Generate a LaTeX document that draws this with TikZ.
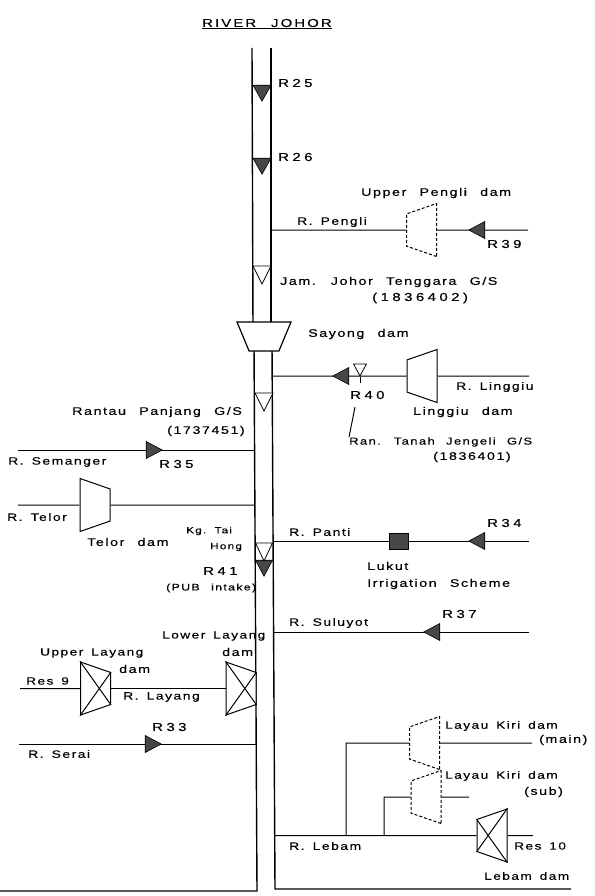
\documentclass[tikz,border=0pt]{standalone}
\usepackage{fontspec}
\setmainfont[FakeStretch=1.3,LetterSpace=14,WordSpace=2.4,FakeBold=0.25]{Liberation Sans}
\newfontfamily\namefont[FakeStretch=1.3,LetterSpace=14,WordSpace=0.7,FakeBold=0.25]{Liberation Sans}
\newfontfamily\midfont[FakeStretch=1.3,LetterSpace=14,WordSpace=1.5,FakeBold=0.25]{Liberation Sans}
\usetikzlibrary{shapes.geometric}

\begin{document}
\begin{tikzpicture}[
    x=1pt, y=-1pt,
    riverline/.style={line width=1.4pt},
    branchline/.style={line width=1pt},
    dambox/.style={
      trapezium, draw, fill=white, inner sep=0pt, line width=1pt,
      text width=1pt, text height=1pt, text depth=0pt,
      trapezium stretches=true, trapezium angle=72,
      minimum width=53pt, minimum height=30pt,
    },
    dam narrow west/.style={dambox, shape border rotate=90},
    dam narrow east/.style={dambox, shape border rotate=270},
    planned/.style={densely dashed, line width=1pt},
    flowmark/.style={
      isosceles triangle, isosceles triangle stretches, draw, fill=black!72,
      inner sep=0pt, minimum width=17pt, minimum height=16pt, line width=0.6pt,
    },
    gaugemark/.style={
      isosceles triangle, isosceles triangle stretches, draw, fill=white,
      inner sep=0pt, minimum width=18pt, minimum height=18pt, line width=0.8pt,
      shape border rotate=270, anchor=apex,
    },
    lbl/.style={inner sep=0pt, anchor=west, font=\fontsize{11}{12}\selectfont},
    rivername/.style={lbl, font=\namefont\fontsize{10.7}{12}\selectfont},
    midlbl/.style={lbl, font=\midfont\fontsize{10.5}{12}\selectfont},
    reach/.style={lbl, font=\fontsize{11.5}{12}\selectfont\addfontfeature{LetterSpace=30}},
  ]
  \useasboundingbox (0,0) rectangle (594,896);

  %% ---- free ends and junctions ----
  \coordinate (riverLtop)  at (252,48);
  \coordinate (riverRtop)  at (271,48);
  \coordinate (riverLdam)  at (253,330);
  \coordinate (riverRdam)  at (271,330);
  \coordinate (riverLlow)  at (254,345);
  \coordinate (riverRlow)  at (272,345);
  \coordinate (riverLbot)  at (257,891);
  \coordinate (riverRbot)  at (275,889);
  \coordinate (edgeL)      at (0,891);
  \coordinate (edgeR)      at (571,889);

  %% ---- river ----
  \draw[riverline] (riverLtop) -- (riverLdam);
  \draw[riverline] (riverRtop) -- (riverRdam);
  \draw[riverline] (riverLlow) -- (riverLbot) -- (edgeL);
  \draw[riverline] (riverRlow) -- (riverRbot) -- (edgeR);

  %% ---- dams ----
  \node[dambox, shape border rotate=180, trapezium angle=68, minimum width=54pt,
        minimum height=29pt, line width=1.2pt] (sayong) at (264,336.5) {};
  \node[dam narrow west, planned] (pengli)  at (421.5,230) {};
  \node[dam narrow west]          (linggiu) at (422,376)   {};
  \node[dam narrow east]          (telor)   at (95,505)    {};
  \node[dam narrow east]          (upperlayang) at (95.5,688.5) {};
  \node[dam narrow east]          (lowerlayang) at (241,688.5)  {};
  \node[dam narrow west]          (lebam)   at (492,835.5) {};
  \node[dam narrow west, planned] (kirimain) at (424.5,743) {};
  \node[dam narrow west, planned] (kirisub)  at (426,797)  {};

  % crossed dams
  \draw[branchline] (upperlayang.top left corner) -- (upperlayang.bottom right corner);
  \draw[branchline] (upperlayang.top right corner) -- (upperlayang.bottom left corner);
  \draw[branchline] (lowerlayang.top left corner) -- (lowerlayang.bottom right corner);
  \draw[branchline] (lowerlayang.top right corner) -- (lowerlayang.bottom left corner);
  \draw[branchline] (lebam.top left corner) -- (lebam.bottom right corner);
  \draw[branchline] (lebam.top right corner) -- (lebam.bottom left corner);

  %% ---- irrigation box ----
  \node[draw, fill=black!72, inner sep=0pt, minimum width=19pt, minimum height=16pt]
    (lukut) at (398.5,541) {};

  %% ---- tributaries, right bank ----
  \coordinate (joinPengli)  at (271,230);
  \coordinate (endPengli)   at (528,230);
  \coordinate (joinLinggiu) at (272,376);
  \coordinate (endLinggiu)  at (529,376);
  \coordinate (joinPanti)   at (274,541);
  \coordinate (endPanti)    at (529,541);
  \coordinate (joinSuluyot) at (274,632);
  \coordinate (endSuluyot)  at (529,632);
  \coordinate (joinLebam)   at (275,835.5);
  \coordinate (endRes)      at (533,835.5);
  \coordinate (tapMain)     at (346,835.5);
  \coordinate (bendMain)    at (346,743);
  \coordinate (endMain)     at (532,743);
  \coordinate (tapSub)      at (384,835.5);
  \coordinate (bendSub)     at (384,797);
  \coordinate (endSub)      at (469,797);
  \draw[branchline] (joinPengli) -- (pengli.west);
  \draw[branchline] (pengli.east) -- (endPengli);
  \draw[branchline] (joinLinggiu) -- (linggiu.west);
  \draw[branchline] (linggiu.east) -- (endLinggiu);
  \draw[branchline] (joinPanti) -- (lukut.west);
  \draw[branchline] (lukut.east) -- (endPanti);
  \draw[branchline] (joinSuluyot) -- (endSuluyot);
  \draw[branchline] (joinLebam) -- (lebam.west);
  \draw[branchline] (lebam.east) -- (endRes);
  \draw[branchline] (tapMain) -- (bendMain) -- (kirimain.west);
  \draw[branchline] (kirimain.east) -- (endMain);
  \draw[branchline] (tapSub) -- (bendSub) -- (kirisub.west);
  \draw[branchline] (kirisub.east) -- (endSub);

  %% ---- tributaries, left bank ----
  \coordinate (endSemanger)  at (18,450);
  \coordinate (joinSemanger) at (254,450);
  \coordinate (endTelor)     at (18,505);
  \coordinate (joinTelor)    at (254,505);
  \coordinate (endRes9)      at (20,688.5);
  \coordinate (endSerai)     at (19,744);
  \coordinate (joinSerai)    at (256,744);
  \draw[branchline] (endSemanger) -- (joinSemanger);
  \draw[branchline] (endTelor) -- (telor.west);
  \draw[branchline] (telor.east) -- (joinTelor);
  \draw[branchline] (endRes9) -- (upperlayang.west);
  \draw[branchline] (upperlayang.east) -- (lowerlayang.west);
  \draw[branchline] (endSerai) -- (joinSerai);

  %% ---- flow markers ----
  \node[flowmark, shape border rotate=270, minimum width=18pt, anchor=apex] (r25) at (262,102) {};
  \node[flowmark, shape border rotate=270, minimum width=18pt, anchor=apex] (r26) at (262,175) {};
  \node[flowmark, shape border rotate=270, minimum width=17pt, anchor=apex] (r41) at (264,577) {};
  \node[flowmark, shape border rotate=180, anchor=apex] (r39) at (468,230) {};
  \node[flowmark, shape border rotate=180, anchor=apex] (r40) at (332,376) {};
  \node[flowmark, shape border rotate=180, anchor=apex] (r34) at (468,541) {};
  \node[flowmark, shape border rotate=180, anchor=apex] (r37) at (423,632) {};
  \node[flowmark, anchor=apex] (r35) at (163,450) {};
  \node[flowmark, anchor=apex] (r33) at (162,744) {};

  %% ---- gauging stations ----
  \node[gaugemark] (gaugeJohor)  at (262,285) {};
  \node[gaugemark] (gaugeRantau) at (264,412) {};
  \node[gaugemark, minimum width=17pt] (gaugeTai) at (264,562) {};
  \node[gaugemark, minimum width=13pt, minimum height=12pt] (gaugeTanah) at (360,377) {};
  \coordinate (tickTanah) at (360,383);
  \draw[branchline] (gaugeTanah.apex) -- (tickTanah);

  %% ---- labels ----
  \node[lbl, font=\fontsize{11.5}{12}\selectfont\addfontfeature{LetterSpace=18}] (title) at (202,24) {\underline{RIVER JOHOR}};
  \node[reach] (lblR25) at (278,83)  {R25};
  \node[reach] (lblR26) at (278,157) {R26};
  \node[lbl] (lblUpperPengli) at (361,193) {Upper Pengli dam};
  \node[rivername] (lblPengli) at (297,222) {R. Pengli};
  \node[reach] (lblR39) at (487,244) {R39};
  \node[lbl] (lblJohor) at (280,282) {Jam. Johor Tenggara G/S};
  \node[reach] (lblJohorNo) at (372,298) {(1836402)};
  \node[lbl] (lblSayong) at (308,334) {Sayong dam};
  \node[reach] (lblR40) at (350,395) {R40};
  \node[rivername] (lblLinggiu) at (456,387) {R. Linggiu};
  \node[lbl] (lblLinggiuDam) at (413,412) {Linggiu dam};
  \node[lbl, font=\midfont\fontsize{10}{12}\selectfont] (lblTanah) at (349,442) {Ran. Tanah Jengeli G/S};
  \node[lbl] (lblTanahNo) at (433,457) {(1836401)};
  \node[lbl] (lblRantau) at (72,412) {Rantau Panjang G/S};
  \node[lbl] (lblRantauNo) at (167,431) {(1737451)};
  \node[rivername] (lblSemanger) at (8,462) {R. Semanger};
  \node[reach] (lblR35) at (159,464) {R35};
  \node[rivername] (lblTelor) at (7,517) {R. Telor};
  \node[lbl] (lblTelorDam) at (87,542) {Telor dam};
  \node[lbl, font=\namefont\fontsize{9}{11}\selectfont] (lblKg) at (186,531) {Kg. Tai};
  \node[lbl, font=\namefont\fontsize{9}{11}\selectfont] (lblHong) at (210,547) {Hong};
  \node[reach] (lblR41) at (203,571) {R41};
  \node[lbl, font=\fontsize{9.5}{11}\selectfont] (lblPub) at (166,588) {(PUB intake)};
  \node[rivername] (lblPanti) at (289,532) {R. Panti};
  \node[reach] (lblR34) at (487,523) {R34};
  \node[lbl] (lblLukut) at (367,566) {Lukut};
  \node[lbl] (lblIrrigation) at (367,584) {Irrigation Scheme};
  \node[rivername] (lblSuluyot) at (289,623) {R. Suluyot};
  \node[reach] (lblR37) at (442,614) {R37};
  \node[midlbl] (lblLowerLayang) at (162,636) {Lower Layang};
  \node[lbl] (lblLowerDam) at (222,652) {dam};
  \node[midlbl] (lblUpperLayang) at (40,653) {Upper Layang};
  \node[lbl] (lblUpperDam) at (119,669) {dam};
  \node[midlbl] (lblRes9) at (26,681) {Res 9};
  \node[rivername] (lblLayang) at (123,697) {R. Layang};
  \node[reach] (lblR33) at (152,727) {R33};
  \node[rivername] (lblSerai) at (28,754) {R. Serai};
  \node[midlbl] (lblKiriMain) at (445,726) {Layau Kiri dam};
  \node[lbl] (lblMain) at (539,740) {(main)};
  \node[midlbl] (lblKiriSub) at (445,776) {Layau Kiri dam};
  \node[lbl] (lblSub) at (524,792) {(sub)};
  \node[rivername] (lblLebam) at (289,846) {R. Lebam};
  \node[midlbl] (lblRes10) at (514,846) {Res 10};
  \node[midlbl] (lblLebamDam) at (484,876) {Lebam dam};

  % pointer from R40 to its gauge name
  \coordinate (pointerTop) at (355,407);
  \draw[branchline] (pointerTop) -- (lblTanah.north west);
\end{tikzpicture}
\end{document}
